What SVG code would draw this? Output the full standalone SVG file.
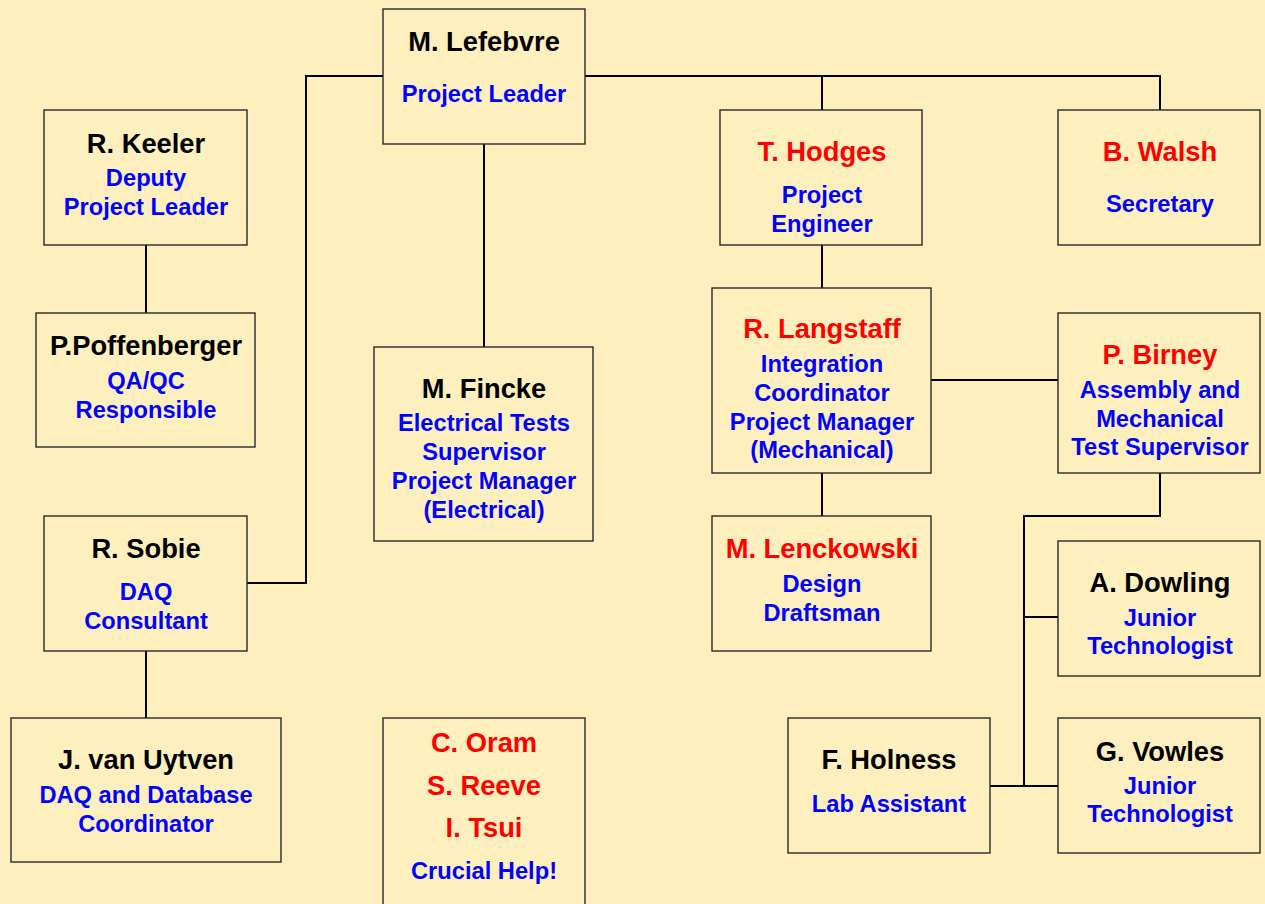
<svg xmlns="http://www.w3.org/2000/svg" width="1265" height="904" viewBox="0 0 1265 904">
<style>
.bx{fill:#FEF0BE;stroke:#2a2a2a;stroke-width:1.4}
text{font-family:"Liberation Sans",Arial,sans-serif;font-weight:bold;text-anchor:middle}
.n{font-size:27.3px;fill:#000}
.r{font-size:27.3px;fill:#FF0000}
.s{font-size:23.7px;fill:#0000FF}
.c{fill:none;stroke:#000;stroke-width:2}
</style>
<rect width="1265" height="904" fill="#FEF0BE"/>
<g id="connectors">
<polyline class="c" points="383,76 306,76 306,583 247,583"/>
<polyline class="c" points="585,76 1160,76 1160,110"/>
<line class="c" x1="822" y1="76" x2="822" y2="110"/>
<line class="c" x1="484" y1="144" x2="484" y2="347"/>
<line class="c" x1="146" y1="245" x2="146" y2="313"/>
<line class="c" x1="146" y1="651" x2="146" y2="718"/>
<line class="c" x1="822" y1="245" x2="822" y2="288"/>
<line class="c" x1="822" y1="473" x2="822" y2="516"/>
<line class="c" x1="931" y1="380" x2="1058" y2="380"/>
<polyline class="c" points="1160,473 1160,516 1024,516 1024,786"/>
<line class="c" x1="1024" y1="617" x2="1058" y2="617"/>
<line class="c" x1="990" y1="786" x2="1058" y2="786"/>
</g>
<g id="lefebvre"><rect class="bx" x="383" y="9" width="202" height="135"/><text class="n" x="484" y="51">M. Lefebvre</text><text class="s" x="484" y="102">Project Leader</text></g>
<g id="keeler"><rect class="bx" x="44" y="110" width="203" height="135"/><text class="n" x="146" y="153">R. Keeler</text><text class="s" x="146" y="186">Deputy</text><text class="s" x="146" y="215">Project Leader</text></g>
<g id="poffenberger"><rect class="bx" x="36" y="313" width="219" height="134"/><text class="n" x="146" y="355">P.Poffenberger</text><text class="s" x="146" y="389">QA/QC</text><text class="s" x="146" y="418">Responsible</text></g>
<g id="sobie"><rect class="bx" x="44" y="516" width="203" height="135"/><text class="n" x="146" y="558">R. Sobie</text><text class="s" x="146" y="600">DAQ</text><text class="s" x="146" y="629">Consultant</text></g>
<g id="vanuytven"><rect class="bx" x="11" y="718" width="270" height="144"/><text class="n" x="146" y="769">J. van Uytven</text><text class="s" x="146" y="803">DAQ and Database</text><text class="s" x="146" y="832">Coordinator</text></g>
<g id="fincke"><rect class="bx" x="374" y="347" width="219" height="194"/><text class="n" x="484" y="398">M. Fincke</text><text class="s" x="484" y="431">Electrical Tests</text><text class="s" x="484" y="460">Supervisor</text><text class="s" x="484" y="489">Project Manager</text><text class="s" x="484" y="518">(Electrical)</text></g>
<g id="helpers"><rect class="bx" x="383" y="718" width="202" height="190"/><text class="r" x="484" y="752">C. Oram</text><text class="r" x="484" y="795">S. Reeve</text><text class="r" x="484" y="837">I. Tsui</text><text class="s" x="484" y="879">Crucial Help!</text></g>
<g id="hodges"><rect class="bx" x="720" y="110" width="202" height="135"/><text class="r" x="822" y="161">T. Hodges</text><text class="s" x="822" y="203">Project</text><text class="s" x="822" y="232">Engineer</text></g>
<g id="walsh"><rect class="bx" x="1058" y="110" width="202" height="135"/><text class="r" x="1160" y="161">B. Walsh</text><text class="s" x="1160" y="212">Secretary</text></g>
<g id="langstaff"><rect class="bx" x="712" y="288" width="219" height="185"/><text class="r" x="822" y="338">R. Langstaff</text><text class="s" x="822" y="372">Integration</text><text class="s" x="822" y="401">Coordinator</text><text class="s" x="822" y="430">Project Manager</text><text class="s" x="822" y="458">(Mechanical)</text></g>
<g id="birney"><rect class="bx" x="1058" y="313" width="202" height="160"/><text class="r" x="1160" y="364">P. Birney</text><text class="s" x="1160" y="398">Assembly and</text><text class="s" x="1160" y="427">Mechanical</text><text class="s" x="1160" y="455">Test Supervisor</text></g>
<g id="lenckowski"><rect class="bx" x="712" y="516" width="219" height="135"/><text class="r" x="822" y="558">M. Lenckowski</text><text class="s" x="822" y="592">Design</text><text class="s" x="822" y="621">Draftsman</text></g>
<g id="dowling"><rect class="bx" x="1058" y="541" width="202" height="135"/><text class="n" x="1160" y="592">A. Dowling</text><text class="s" x="1160" y="626">Junior</text><text class="s" x="1160" y="654">Technologist</text></g>
<g id="vowles"><rect class="bx" x="1058" y="718" width="202" height="135"/><text class="n" x="1160" y="761">G. Vowles</text><text class="s" x="1160" y="794">Junior</text><text class="s" x="1160" y="822">Technologist</text></g>
<g id="holness"><rect class="bx" x="788" y="718" width="202" height="135"/><text class="n" x="889" y="769">F. Holness</text><text class="s" x="889" y="812">Lab Assistant</text></g>
</svg>
